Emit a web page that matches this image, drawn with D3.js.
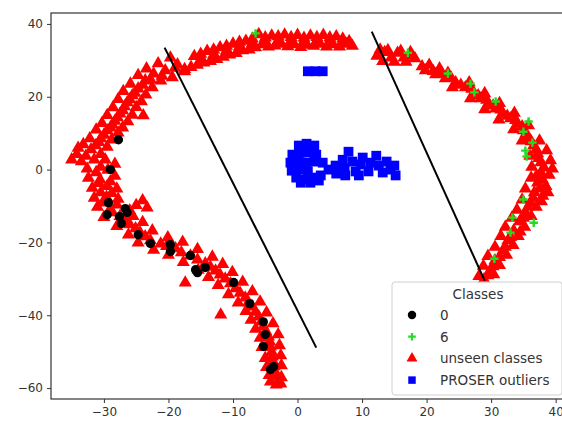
<!DOCTYPE html>
<html>
<head>
<meta charset="utf-8">
<script src="https://d3js.org/d3.v7.min.js"></script>
<style>
  body { margin: 0; background: #fff; }
  text { font-family: "DejaVu Sans", sans-serif; }
</style>
</head>
<body>
<div id="container"></div>
<script>
  // svg dimensions
  width = 562
  height = 422

  // tick values
  xTicks = [-30, -20, -10, 0, 10, 20, 30, 40];
  yTicks = [-60, -40, -20, 0, 20, 40];

  // class 0 (black dots)
  classZero = [
    [-27.75, 8.2], [-29.0, 0], [-29.3, -9.1], [-29.5, -12.4], [-26.7, -10.7], [-27.6, -12.9],
    [-27.3, -14.8], [-26.4, -11.8], [-24.7, -17.9], [-22.8, -20.3], [-19.7, -20.6], [-19.7, -22.5],
    [-16.6, -23.6], [-15.5, -28.3], [-15.8, -27.5], [-14.3, -26.9], [-9.9, -31.0], [-7.4, -36.8],
    [-5.3, -41.8], [-5.0, -45.3], [-5.3, -48.6], [-3.7, -54.1], [-4.2, -54.9]
  ];

  // class 6 (green plus)
  classSix = [
    [-6.5, 37.4], [17.1, 32.1], [23.3, 26.4], [26.8, 23.6], [27.4, 21.2], [30.7, 18.7],
    [35.8, 13.2], [35.0, 10.4], [36.4, 7.4], [35.3, 5.2], [35.5, 3.6], [35.0, -8.2],
    [33.3, -13.2], [36.6, -14.6], [33.0, -17.3], [30.5, -24.5]
  ];

  // unseen classes, left arc
  unseenLeft = [
    [8, 35.5], [7, 36.2], [6, 36.8], [5, 36.5], [4, 37.2], [3, 36.6], [2, 37.0], [1, 36.4], [0, 37.2],
    [-1, 36.6], [-2, 37.3], [-3, 36.8], [-4, 37.0], [-5, 36.5], [-6, 37.4], [-7, 36.2], [-8, 35.6],
    [-9, 35.3], [-10, 34.8], [-11, 34.2], [-12, 33.8], [-13, 33.2], [-14, 32.8], [-15, 32.0], [-16, 31.4],
    [8.5, 34.2], [7.5, 34.8], [6.5, 34.0], [5.5, 34.6], [4.5, 34.0], [3.5, 34.8], [2.5, 34.2], [1.5, 34.5],
    [0.5, 33.9], [-0.5, 34.6], [-1.5, 34.1], [-2.5, 34.8], [-3.5, 34.3], [-4.5, 34.0], [-5.5, 34.6],
    [-6.5, 33.8], [-7.5, 33.2], [-8.5, 33.0], [-9.5, 32.2], [-10.5, 31.8], [-11.5, 31.2], [-12.5, 30.6],
    [-13.5, 30.0], [-14.5, 29.6], [-15.5, 29.0], [-16.5, 28.4], [-17.5, 27.8],
    [7, 35.2], [5, 35.5], [3, 35.6], [1, 35.4], [-1, 35.6], [-3, 35.5], [-5, 35.4], [-7, 35.0],
    [-9, 34.0], [-11, 33.0], [-13, 31.8], [-15, 30.6],
    [-18.6, 29.1], [-19.7, 31.0], [-17.5, 27.2], [-20.5, 27.5], [-21.6, 29.4], [-19.4, 25.6],
    [-22.3, 26.6], [-23.4, 28.0], [-21.2, 24.7], [-23.6, 24.7], [-24.7, 26.2], [-22.5, 22.8],
    [-24.7, 22.5], [-25.9, 23.8], [-23.5, 20.8], [-25.6, 20.6], [-27.0, 21.8], [-24.2, 19.0],
    [-26.4, 18.7], [-27.8, 19.6], [-25.0, 17.4], [-23.9, 15.1], [-27.1, 16.5], [-28.6, 17.3], [-25.6, 15.3],
    [-27.9, 14.6], [-29.5, 15.2], [-26.3, 13.5], [-28.7, 12.6], [-30.3, 13.0], [-27.1, 11.8],
    [-29.5, 11.0], [-31.2, 11.2], [-27.8, 10.4], [-30.5, 8.8], [-32.2, 8.8], [-28.8, 8.5],
    [-31.3, 6.9], [-33.2, 7.2], [-29.5, 6.5], [-34.2, 4.5], [-35.0, 3.0], [-33.5, 2.5], [-34.0, 6.2],
    [-32.8, 4.0], [-32.6, 0.5], [-30.5, 1.0], [-28.3, 1.8], [-31.5, 3.0], [-32.4, -2.0], [-30.6, -2.5],
    [-28.3, -1.5], [-31.8, -4.8], [-29.5, -4.3], [-28.0, -5.0], [-31.5, -7.5], [-29.6, -7.3], [-27.8, -7.8],
    [-31.0, -10.0], [-28.0, -9.4], [-24.0, -8.2], [-23.3, -10.2], [-25.0, -9.5],
    [-28.7, -11.5], [-30.0, -12.8], [-26.0, -11.0], [-26.7, -13.7], [-28.0, -15.3], [-25.5, -12.5],
    [-25.1, -15.9], [-26.2, -17.6], [-24.0, -14.2], [-23.6, -18.1], [-24.7, -19.8], [-22.5, -16.5],
    [-21.2, -20.1], [-22.3, -21.8], [-20.1, -18.4], [-18.9, -21.4], [-20.0, -23.2], [-17.8, -19.6],
    [-16.6, -23.4], [-17.7, -25.2], [-15.5, -21.6], [-14.3, -25.5], [-15.4, -27.3], [-13.2, -23.7],
    [-12.7, -27.5], [-13.8, -29.3], [-11.6, -25.7], [-11.2, -29.7], [-12.3, -31.5], [-10.1, -27.9],
    [-9.6, -32.4], [-10.7, -34.0], [-8.5, -30.6], [-8.1, -34.9], [-9.2, -36.3], [-7.0, -33.2],
    [-7.0, -37.4], [-8.0, -38.6], [-5.8, -36.0], [-6.0, -40.1], [-7.2, -41.0], [-4.8, -39.0],
    [-5.3, -42.9], [-6.5, -43.5], [-3.8, -42.0], [-4.5, -45.6], [-5.8, -46.0], [-3.0, -45.0],
    [-4.2, -48.4], [-5.5, -48.5], [-2.8, -48.0], [-3.9, -51.1], [-5.0, -51.5], [-2.6, -50.8],
    [-3.6, -53.8], [-4.8, -54.0], [-2.5, -53.5], [-3.4, -56.6], [-4.4, -56.2], [-2.5, -56.8], [-3.3, -58.8],
    [-19.0, 28.2], [-21.0, 26.0], [-22.8, 25.0], [-24.0, 23.5], [-25.2, 21.3], [-26.0, 19.5], [-26.8, 17.6],
    [-27.5, 15.6], [-28.3, 13.6], [-29.0, 11.8], [-30.0, 9.8], [-30.8, 7.8], [-32.0, 5.8], [-30.5, 4.5],
    [-29.8, 3.0], [-31.2, -0.5], [-29.4, 0.2], [-30.8, -3.5], [-29.0, -3.0], [-30.5, -6.0], [-28.8, -6.2],
    [-30.2, -8.8], [-29.0, -10.5], [-27.5, -12.5], [-26.0, -14.8], [-24.4, -17.0], [-22.8, -19.2],
    [-20.3, -20.8], [-18.0, -22.5], [-15.5, -24.5], [-13.5, -26.5], [-12.0, -28.6], [-10.4, -31.0],
    [-8.9, -33.6], [-7.6, -36.2], [-6.5, -38.8], [-5.6, -41.5], [-4.9, -44.2], [-4.3, -47.0], [-4.0, -49.8],
    [-3.8, -52.4], [-3.5, -55.2], [-4.2, -58.0], [-2.6, -58.5],
    [-17.4, -30.8], [-11.9, -39.6]
  ];

  // unseen classes, right arc
  unseenRight = [
    [12.3, 31.5], [13.5, 32.5], [14.5, 31.0], [15.5, 32.3], [16.5, 31.0], [17.5, 32.5], [18.2, 30.8],
    [13.2, 30.0], [15.0, 29.8], [16.8, 29.8], [12.8, 33.2], [14.0, 33.0], [16.0, 32.8], [17.8, 31.5],
    [19.8, 27.5], [20.4, 29.0], [21.4, 26.4], [22.0, 28.0], [22.9, 25.3], [23.3, 26.8], [24.5, 24.2],
    [24.0, 22.8], [26.0, 22.8], [26.6, 24.2], [27.3, 21.2], [26.8, 19.8], [28.4, 19.8], [29.0, 21.2],
    [29.6, 18.4], [29.0, 16.8], [30.7, 17.0], [31.3, 18.5], [31.8, 15.7], [31.2, 14.0], [33.0, 14.3],
    [33.6, 15.8], [34.1, 12.9], [33.5, 11.3], [35.0, 11.0], [35.8, 12.4], [35.8, 9.1], [34.8, 8.2],
    [36.6, 6.9], [37.5, 8.2], [37.2, 4.7], [38.6, 5.5], [36.0, 4.0], [37.7, 2.2], [39.2, 2.8], [36.3, 1.0],
    [37.7, -0.5], [39.0, -1.2], [36.2, -2.0], [37.2, -3.3], [38.5, -4.3], [36.7, -6.0], [35.3, -5.0],
    [38.0, -7.0], [36.1, -8.8], [34.8, -8.0], [37.0, -10.0], [35.3, -11.5], [34.0, -10.8], [36.2, -12.5],
    [34.4, -14.0], [33.2, -13.0], [35.2, -15.5], [33.5, -16.5], [32.2, -15.5], [34.2, -18.0], [32.6, -19.2],
    [31.5, -18.0], [33.4, -20.5], [31.8, -22.0], [30.6, -21.0], [32.4, -23.2], [30.6, -24.7], [29.5, -23.5],
    [31.3, -26.0], [29.8, -27.5], [28.8, -26.2], [30.4, -28.5], [28.9, -29.9], [28.1, -29.0],
    [19.3, 28.6], [21.0, 27.3], [22.4, 26.5], [23.8, 25.4], [25.3, 23.5], [27.0, 22.4], [28.0, 20.6],
    [29.3, 19.4], [30.3, 17.8], [31.5, 16.7], [32.5, 15.0], [33.8, 13.8], [34.8, 12.1], [35.4, 10.2],
    [36.2, 8.0], [37.0, 5.8], [37.4, 3.4], [38.2, 0.8], [37.0, -1.5], [38.0, -2.6], [37.5, -5.0],
    [36.5, -7.5], [35.7, -10.0], [35.0, -13.0], [34.5, -16.8], [33.0, -18.3], [32.2, -21.0], [31.3, -23.8],
    [30.3, -26.3], [29.5, -28.8], [38.8, -6.0], [39.5, 0.5], [37.8, -8.5]
  ];

  // PROSER outliers (blue squares)
  proser = [
    [1.6, 27.0], [2.8, 27.0], [3.9, 27.0],
    [0.2, 6.6], [1.4, 7.1], [2.6, 6.6], [-0.8, 4.1], [0.5, 4.7], [1.7, 4.7], [2.9, 4.1],
    [-1.1, 1.9], [0.2, 2.5], [1.4, 1.9], [2.6, 2.2], [3.9, 1.9], [-0.9, -0.3], [0.3, 0], [1.6, -0.5],
    [-0.2, -2.2], [1.1, -2.7], [2.3, -2.2], [3.6, -1.6], [0.5, -3.6], [2.0, -3.6], [3.3, -3.0],
    [4.8, 0], [5.9, 1.1], [6.0, -1.1], [7.0, 2.7], [7.3, 0.3], [7.9, 4.9], [8.5, 2.2], [9.0, -0.5],
    [9.8, 1.4], [10.1, 3.3], [11.0, -0.5], [11.3, 1.9], [12.2, 3.8], [12.6, 1.1], [13.2, -0.8],
    [13.8, 2.2], [14.4, 0], [15.2, -1.6], [15.0, 1.1], [7.4, -1.6], [9.5, -1.6]
  ];

  // black separating lines
  boundaries = [
    [[-20.6, 33.5], [2.9, -48.9]],
    [[11.5, 37.9], [29.0, -30.5]]
  ];

  legendLabels = ["0", "6", "unseen classes", "PROSER outliers"];

  var margin = {left: 51, top: 13, right: 566, bottom: 399};

  var x = d3.scaleLinear().domain([-38.2, 41.6]).range([margin.left, margin.right]);
  var y = d3.scaleLinear().domain([-63, 43]).range([margin.bottom, margin.top]);

  var svg = d3.select("#container").append("svg")
    .attr("width", width)
    .attr("height", height);

  svg.append("rect")
    .attr("width", width)
    .attr("height", height)
    .attr("fill", "#fff");

  var plot = svg.append("g");

  var triangle = d3.symbol().type(d3.symbolTriangle).size(74);
  var circle = d3.symbol().type(d3.symbolCircle).size(68);
  var square = d3.symbol().type(d3.symbolSquare).size(96);
  var plus = "M-4.2,0H4.2M0,-4.2V4.2";

  // unseen classes
  plot.selectAll(".unseen")
    .data(unseenLeft.concat(unseenRight))
    .enter().append("path")
    .attr("class", "unseen")
    .attr("d", triangle)
    .attr("transform", d => "translate(" + x(d[0]) + "," + (y(d[1]) + 1) + ")")
    .attr("fill", "#ff0000");

  plot.selectAll(".zero")
    .data(classZero)
    .enter().append("path")
    .attr("class", "zero")
    .attr("d", circle)
    .attr("transform", d => "translate(" + x(d[0]) + "," + y(d[1]) + ")")
    .attr("fill", "#000");

  plot.selectAll(".six")
    .data(classSix)
    .enter().append("path")
    .attr("class", "six")
    .attr("d", plus)
    .attr("transform", d => "translate(" + x(d[0]) + "," + y(d[1]) + ")")
    .attr("stroke", "#22dd22")
    .attr("stroke-width", 2.4)
    .attr("fill", "none");

  plot.selectAll(".proser")
    .data(proser)
    .enter().append("path")
    .attr("class", "proser")
    .attr("d", square)
    .attr("transform", d => "translate(" + x(d[0]) + "," + y(d[1]) + ")")
    .attr("fill", "#0000ff");

  plot.selectAll(".boundary")
    .data(boundaries)
    .enter().append("line")
    .attr("class", "boundary")
    .attr("x1", d => x(d[0][0]))
    .attr("y1", d => y(d[0][1]))
    .attr("x2", d => x(d[1][0]))
    .attr("y2", d => y(d[1][1]))
    .attr("stroke", "#000")
    .attr("stroke-width", 2);

  // axes
  var xAxis = svg.append("g")
    .attr("transform", "translate(0," + margin.bottom + ")")
    .call(d3.axisBottom(x).tickValues(xTicks).tickSize(4).tickPadding(4).tickFormat(d3.format("d")));
  var yAxis = svg.append("g")
    .attr("transform", "translate(" + margin.left + ",0)")
    .call(d3.axisLeft(y).tickValues(yTicks).tickSize(4).tickPadding(4).tickFormat(d3.format("d")));

  [xAxis, yAxis].forEach(function(a) {
    a.select(".domain").remove();
    a.selectAll("line").attr("stroke", "#333");
    a.selectAll("text").attr("font-size", 12).attr("fill", "#333")
      .attr("font-family", "DejaVu Sans, sans-serif");
  });

  // frame
  svg.append("rect")
    .attr("x", margin.left)
    .attr("y", margin.top)
    .attr("width", margin.right - margin.left)
    .attr("height", margin.bottom - margin.top)
    .attr("fill", "none")
    .attr("stroke", "#333")
    .attr("stroke-width", 1.2);

  // legend
  var legend = svg.append("g").attr("transform", "translate(392,282)");
  legend.append("rect")
    .attr("width", 170)
    .attr("height", 113)
    .attr("rx", 3)
    .attr("fill", "#fff")
    .attr("fill-opacity", 0.8)
    .attr("stroke", "#d0d0d0");
  legend.append("text")
    .attr("x", 86)
    .attr("y", 17)
    .attr("text-anchor", "middle")
    .attr("font-size", 13.5)
    .attr("fill", "#333")
    .text("Classes");

  var rows = legend.selectAll(".row")
    .data(legendLabels)
    .enter().append("g")
    .attr("class", "row")
    .attr("transform", (d, i) => "translate(20," + (33 + i * 21.7) + ")");

  rows.append("path")
    .attr("d", function(d, i) {
      if (i == 0) return d3.symbol().type(d3.symbolCircle).size(56)();
      if (i == 1) return "M-3.8,0H3.8M0,-3.8V3.8";
      if (i == 2) return d3.symbol().type(d3.symbolTriangle).size(52)();
      return d3.symbol().type(d3.symbolSquare).size(56)();
    })
    .attr("fill", (d, i) => i == 0 ? "#000" : i == 2 ? "#ff0000" : i == 3 ? "#0000ff" : "none")
    .attr("stroke", (d, i) => i == 1 ? "#22dd22" : "none")
    .attr("stroke-width", 2.2);

  rows.append("text")
    .attr("x", 28)
    .attr("y", 5)
    .attr("font-size", 13.5)
    .attr("fill", "#333")
    .text(d => d);
</script>
</body>
</html>
